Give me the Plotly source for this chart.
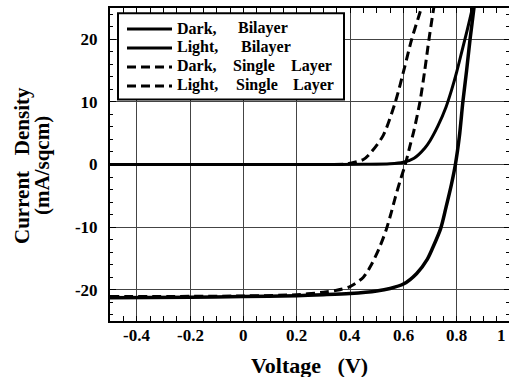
import plotly.graph_objects as go

# ---- data ----
v_dark_bi = [-0.5, 0.0, 0.3, 0.45, 0.55, 0.6, 0.64, 0.68, 0.70, 0.73, 0.76, 0.78, 0.80, 0.82, 0.84, 0.86, 0.875]
j_dark_bi = [0.0, 0.0, 0.0, 0.02, 0.1, 0.35, 1.0, 2.6, 3.8, 6.2, 9.2, 11.8, 14.8, 18.2, 21.6, 25.2, 28.0]

v_light_bi = [-0.5, -0.2, 0.0, 0.2, 0.3, 0.4, 0.5, 0.55, 0.6, 0.65, 0.69, 0.71, 0.74, 0.76, 0.78, 0.795, 0.81, 0.823, 0.837, 0.85, 0.866, 0.875]
j_light_bi = [-21.3, -21.2, -21.1, -20.95, -20.8, -20.6, -20.2, -19.8, -19.1, -17.4, -15.1, -13.3, -10.2, -6.8, -3.2, 0.0, 4.5, 10.0, 15.0, 20.0, 25.5, 29.0]

v_dark_sl = [-0.5, 0.0, 0.3, 0.38, 0.4, 0.45, 0.48, 0.525, 0.57, 0.605, 0.631, 0.665, 0.675]
j_dark_sl = [0.0, 0.0, 0.0, 0.05, 0.2, 0.8, 2.0, 4.7, 10.0, 15.6, 20.0, 24.7, 26.5]

v_light_sl = [-0.5, 0.0, 0.2, 0.3, 0.35, 0.4, 0.45, 0.48, 0.51, 0.535, 0.555, 0.57, 0.59, 0.607, 0.625, 0.64, 0.662, 0.68, 0.696, 0.712, 0.722]
j_light_sl = [-21.1, -21.0, -20.8, -20.4, -20.1, -19.5, -18.0, -16.0, -13.3, -10.5, -7.6, -5.2, -2.3, 0.0, 3.0, 5.5, 10.0, 15.0, 20.0, 24.5, 27.0]

# legend labels: (condition, structure) words
legend_words = [["Dark,", "Bilayer"],
                ["Light,", "Bilayer"],
                ["Dark,", "Single", "Layer"],
                ["Light,", "Single", "Layer"]]
legend_dash = ["solid", "solid", "9px,5px", "9px,5px"]

x_tickvals = [-0.4, -0.2, 0, 0.2, 0.4, 0.6, 0.8]
x_ticktext = ["-0.4", "-0.2", "0", "0.2", "0.4", "0.6", "0.8"]
y_tickvals = [-20, -10, 0, 10, 20]
y_ticktext = ["-20", "-10", "0", "10", "20"]

FONT = "Liberation Serif, Times New Roman, Times, serif"

# plot-area geometry in pixels (for placing legend/titles)
L, R, T, B = 110, 509, 8, 321
def px(xp):
    return (xp - L) / (R - L)
def py(yp):
    return (B - yp) / (B - T)

fig = go.Figure()
series = [(v_dark_bi, j_dark_bi, 3, "solid"),
          (v_light_bi, j_light_bi, 3.5, "solid"),
          (v_dark_sl, j_dark_sl, 3, "9px,5px"),
          (v_light_sl, j_light_sl, 3, "9px,5px")]
for (vx, jy, w, d), words in zip(series, legend_words):
    fig.add_trace(go.Scatter(x=vx, y=jy, mode="lines", name=" ".join(words), showlegend=False,
                             line=dict(color="black", width=w, dash=d, shape="spline", smoothing=0.8)))

# invisible trace to carry right-side y ticks
fig.add_trace(go.Scatter(x=[0], y=[0], yaxis="y2", mode="lines", showlegend=False,
                         line=dict(color="rgba(0,0,0,0)"), hoverinfo="skip"))

tickfont = dict(family=FONT, size=17, color="black", weight="bold")
legfont = dict(family=FONT, size=16, color="black", weight="bold")

shapes = [dict(type="rect", xref="paper", yref="paper", x0=px(118), x1=px(344), y0=py(99.5), y1=py(13.3),
               line=dict(color="black", width=2), fillcolor="white", layer="above")]
annotations = []
row_y = [29, 48, 67, 86]
word_x = [[176, 237], [176, 240], [176, 232, 290], [176, 235, 292]]
for i, words in enumerate(legend_words):
    shapes.append(dict(type="line", xref="paper", yref="paper", x0=px(127), x1=px(172),
                       y0=py(row_y[i]), y1=py(row_y[i]), layer="above",
                       line=dict(color="black", width=3, dash=legend_dash[i])))
    for w, xw in zip(words, word_x[i]):
        annotations.append(dict(text=w, xref="paper", yref="paper", x=px(xw), y=py(row_y[i] - 1),
                                xanchor="left", yanchor="middle", showarrow=False, font=legfont,
                                borderpad=0))

# x tick labels placed on the x scale, just below the axis
for v, t in zip(x_tickvals, x_ticktext):
    annotations.append(dict(text=t, xref="x", yref="paper", x=v, y=py(335.5),
                            xanchor="center", yanchor="middle", showarrow=False, font=tickfont))

annotations += [
    dict(text="Voltage\u00a0\u00a0\u00a0(V)", xref="paper", yref="paper", x=0.5, y=py(365),
         xanchor="center", yanchor="middle", showarrow=False,
         font=dict(family=FONT, size=22, color="black", weight="bold")),
    dict(text="Current\u00a0\u00a0 Density", xref="paper", yref="paper",
         x=px(22), y=py(166), xanchor="center", yanchor="middle", showarrow=False, textangle=-90,
         font=dict(family=FONT, size=21, color="black", weight="bold")),
    dict(text="(mA/sqcm)", xref="paper", yref="paper",
         x=px(42), y=py(166), xanchor="center", yanchor="middle", showarrow=False, textangle=-90,
         font=dict(family=FONT, size=21, color="black", weight="bold")),
    dict(text="1", xref="paper", yref="paper", x=px(508), y=py(335.5), xanchor="right", yanchor="middle",
         showarrow=False, font=tickfont),
]

fig.update_layout(
    width=509, height=377,
    margin=dict(l=L, r=509 - R, t=T, b=377 - B),
    paper_bgcolor="white", plot_bgcolor="white",
    showlegend=False,
    xaxis=dict(range=[-0.5, 0.996], tickvals=x_tickvals, showticklabels=False,
               showgrid=True, gridcolor="#444", gridwidth=1,
               showline=True, linecolor="black", linewidth=2, mirror="allticks",
               ticks="inside", ticklen=5, tickcolor="black", tickwidth=1,
               minor=dict(dtick=0.05, tick0=0, ticks="inside", ticklen=3, tickcolor="black", showgrid=False),
               zeroline=False),
    yaxis=dict(range=[-25, 25], tickvals=y_tickvals, ticktext=y_ticktext,
               showgrid=True, gridcolor="#444", gridwidth=1,
               showline=True, linecolor="black", linewidth=2, mirror=False,
               ticks="inside", ticklen=6, tickcolor="black", tickwidth=1,
               minor=dict(dtick=2, tick0=0, ticks="inside", ticklen=3, tickcolor="black", showgrid=False),
               tickfont=tickfont, ticklabelstandoff=7, zeroline=False),
    yaxis2=dict(range=[-25, 25], overlaying="y", side="right", anchor="x",
                tickvals=y_tickvals, showticklabels=False, showgrid=False, showline=False,
                ticks="inside", ticklen=5, tickcolor="black", tickwidth=1,
                minor=dict(dtick=2, tick0=0, ticks="inside", ticklen=3, tickcolor="black", showgrid=False),
                zeroline=False),
    shapes=shapes,
    annotations=annotations,
)

fig.write_html("out.html")
